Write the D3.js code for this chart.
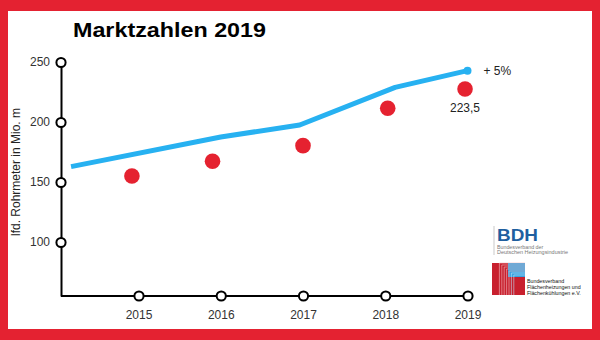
<!DOCTYPE html>
<html><head><meta charset="utf-8">
<script src="https://cdn.jsdelivr.net/npm/d3@7"></script>
<style>html,body{margin:0;padding:0;background:#fff}svg{display:block}text{font-family:"Liberation Sans",Arial,sans-serif}</style>
</head><body>
<script>
// ---- data ----
const title = "Marktzahlen 2019";
const yAxisTitle = "lfd. Rohrmeter in Mio. m";
const years = [2015, 2016, 2017, 2018, 2019];
const yTicks = [100, 150, 200, 250];
// red dots (market figures), x positions in years
const dotYears = [2014.92, 2015.9, 2017, 2018.03, 2018.97];
const dotValues = [155, 167.3, 180.3, 211.4, 227.5];
// blue trend line
const lineYears = [2014.18, 2016, 2016.96, 2018.12, 2019];
const lineValues = [162.8, 187.5, 197.5, 228.9, 242.8];
const growthLabel = "+ 5%";
const valueLabel = "223,5";
const logo1 = ["BDH", "Bundesverband der", "Deutschen Heizungsindustrie"];
const logo2 = ["Bundesverband", "Flächenheizungen und", "Flächenkühlungen e.V."];

const W = 600, H = 340;
const RED = "#E42231", BLUE = "#27B1F1", DOT = "#E52230";
const svg = d3.select("body").append("svg").attr("width", W).attr("height", H);

// frame
svg.append("rect").attr("width", W).attr("height", H).attr("fill", RED);
svg.append("rect").attr("x", 8).attr("y", 11).attr("width", 584).attr("height", 318).attr("fill", "#fff");

// scales
const axisX = 61;
const x = d3.scaleLinear().domain([2015, 2019]).range([138.5, 467.5]);
const y = d3.scaleLinear().domain([55, 250]).range([296, 62]);

// title
svg.append("text").attr("x", 73).attr("y", 37.3)
  .attr("font-size", 20).attr("font-weight", "bold").attr("fill", "#000")
  .attr("textLength", 193).attr("lengthAdjust", "spacingAndGlyphs")
  .text(title);

// y axis
const gy = svg.append("g").attr("transform", `translate(${axisX},0)`)
  .call(d3.axisLeft(y).tickValues(yTicks).tickSize(0).tickPadding(11));
gy.select(".domain").attr("stroke", "#000").attr("stroke-width", 2);
gy.selectAll(".tick text").attr("font-size", 12).attr("fill", "#333").attr("font-family", "Liberation Sans, Arial, sans-serif");
gy.selectAll(".tick").append("circle").attr("r", 4.6).attr("fill", "#fff").attr("stroke", "#000").attr("stroke-width", 2);

// x axis
svg.append("line").attr("x1", axisX).attr("x2", x(years[years.length - 1]))
  .attr("y1", y(55)).attr("y2", y(55)).attr("stroke", "#000").attr("stroke-width", 2);
const gx = svg.append("g").attr("transform", `translate(0,${y(55)})`)
  .call(d3.axisBottom(x).tickValues(years).tickFormat(d3.format("d")).tickSize(0).tickPadding(14));
gx.select(".domain").remove();
gx.selectAll(".tick text").attr("font-size", 12).attr("fill", "#333").attr("font-family", "Liberation Sans, Arial, sans-serif");
gx.selectAll(".tick").append("circle").attr("r", 4.6).attr("fill", "#fff").attr("stroke", "#000").attr("stroke-width", 2);

// y axis title
svg.append("text").attr("transform", `translate(20,172) rotate(-90)`)
  .attr("text-anchor", "middle").attr("font-size", 12).attr("fill", "#222")
  .text(yAxisTitle);

// blue line
const lineData = lineYears.map((d, i) => [d, lineValues[i]]);
svg.append("path").datum(lineData)
  .attr("d", d3.line().x(d => x(d[0])).y(d => y(d[1])))
  .attr("fill", "none").attr("stroke", BLUE).attr("stroke-width", 5).attr("stroke-linejoin", "round");
const last = lineData[lineData.length - 1];
svg.append("circle").attr("cx", x(last[0])).attr("cy", y(last[1])).attr("r", 4).attr("fill", BLUE);

// red dots
svg.selectAll(".dot").data(dotYears.map((d, i) => [d, dotValues[i]])).join("circle")
  .attr("class", "dot").attr("cx", d => x(d[0])).attr("cy", d => y(d[1])).attr("r", 7.8).attr("fill", DOT);

// annotations
svg.append("text").attr("x", x(last[0]) + 16).attr("y", y(last[1]) + 4.3)
  .attr("font-size", 12).attr("fill", "#222").text(growthLabel);
const lastDot = [dotYears[dotYears.length - 1], dotValues[dotValues.length - 1]];
svg.append("text").attr("x", x(lastDot[0])).attr("y", y(lastDot[1]) + 22.5)
  .attr("text-anchor", "middle").attr("font-size", 12).attr("fill", "#222").text(valueLabel);

// logo 1 (BDH)
const l1 = svg.append("g");
l1.append("line").attr("x1", 494).attr("x2", 494).attr("y1", 226).attr("y2", 255).attr("stroke", "#bbb").attr("stroke-width", 0.8);
l1.append("text").attr("x", 497).attr("y", 240.5).attr("font-size", 17).attr("font-weight", "bold")
  .attr("fill", "#1F5F9F").attr("textLength", 41).attr("lengthAdjust", "spacingAndGlyphs").text(logo1[0]);
l1.append("text").attr("x", 497).attr("y", 248.5).attr("font-size", 5.3).attr("fill", "#777").text(logo1[1]);
l1.append("text").attr("x", 497).attr("y", 254).attr("font-size", 5.3).attr("fill", "#777")
  .attr("textLength", 71).attr("lengthAdjust", "spacingAndGlyphs").text(logo1[2]);

// logo 2
const l2 = svg.append("g");
l2.append("rect").attr("x", 492).attr("y", 263).attr("width", 33).attr("height", 32).attr("fill", "#C8202E");
l2.append("rect").attr("x", 508).attr("y", 263).attr("width", 17).attr("height", 14).attr("fill", "#3AA3E0");
d3.range(1, 8).forEach(i => {
  const o = 5 + i * 2.4;
  l2.append("path").attr("d", `M${492 + o},295 V${263 + (i - 1) * 2} H525`)
    .attr("fill", "none").attr("stroke", i > 5 ? "#bfe2f7" : "#f2b8bd").attr("stroke-width", 0.6);
});
logo2.forEach((t, i) => {
  l2.append("text").attr("x", 527).attr("y", 282.5 + i * 6).attr("font-size", 5.3).attr("fill", "#111").text(t);
});
</script>
</body></html>
